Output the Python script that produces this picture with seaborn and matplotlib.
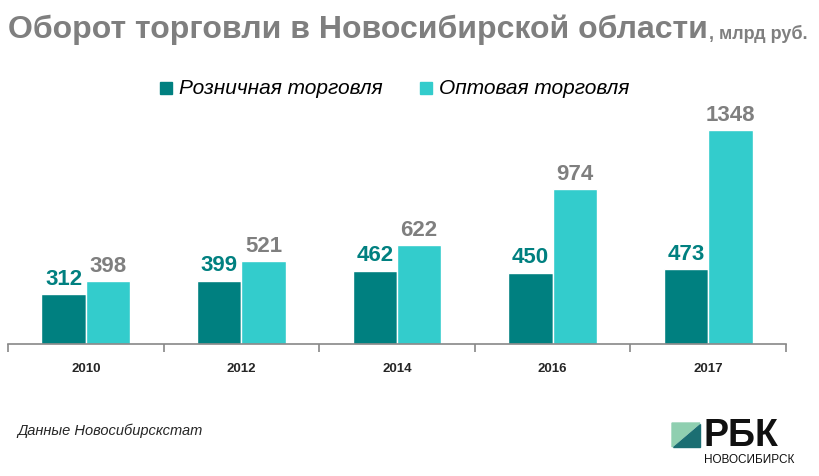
import pandas as pd
import matplotlib.pyplot as plt
import seaborn as sns
from matplotlib.patches import Polygon

years = ["2010", "2012", "2014", "2016", "2017"]
retail = [312, 399, 462, 450, 473]
wholesale = [398, 521, 622, 974, 1348]
series_names = ["Розничная торговля", "Оптовая торговля"]

df = pd.DataFrame({
    "year": years * 2,
    "value": retail + wholesale,
    "kind": [series_names[0]] * len(years) + [series_names[1]] * len(years),
})

sns.set_style("white")
plt.rcParams["font.family"] = ["Liberation Sans", "DejaVu Sans"]

colors = ["#008080", "#33CCCC"]
label_colors = ["#008080", "#7F7F7F"]

fig = plt.figure(figsize=(8.19, 4.76), dpi=100)
ax = fig.add_axes([8 / 819, 1 - 344 / 476, 778 / 819, 264 / 476])

sns.barplot(data=df, x="year", y="value", hue="kind", palette=colors,
            width=0.57, saturation=1, ax=ax, legend=False)

ax.set_xlim(-0.5, 4.5)
ax.set_ylim(0, 1662)
ax.set_xlabel("")
ax.set_ylabel("")
ax.set_yticks([])
for s in ["top", "right", "left"]:
    ax.spines[s].set_visible(False)
ax.spines["bottom"].set_color("#888888")
ax.spines["bottom"].set_linewidth(1.2)
ax.tick_params(axis="x", which="major", length=0, pad=14, labelsize=9.5)
for t in ax.get_xticklabels():
    t.set_fontweight("bold")
ax.set_xticks([i - 0.5 for i in range(len(years) + 1)], minor=True)
ax.tick_params(axis="x", which="minor", bottom=True, length=6, width=1.2,
               color="#888888")

# value labels
for cont, col in zip(ax.containers, label_colors):
    ax.bar_label(cont, padding=3, color=col, fontsize=16, fontweight="bold")

# title
title = fig.text(8 / 819, 1 - 30 / 476, "Оборот торговли в Новосибирской области",
                 fontsize=23, fontweight="bold", color="#7F7F7F", va="center")
fig.canvas.draw()
bb = title.get_window_extent()
fig.text(bb.x1 / 819 + 1 / 819, 1 - 34 / 476, ", млрд руб.",
         fontsize=13, fontweight="bold", color="#7F7F7F", va="center")

# legend
for x0, name, col in zip([160, 420], series_names, colors):
    fig.patches.append(plt.Rectangle((x0 / 819, 1 - 94 / 476), 12 / 819, 12 / 476,
                                     transform=fig.transFigure, color=col))
    fig.text((x0 + 19) / 819, 1 - 88 / 476, name, fontsize=15, style="italic",
             color="#000000", va="center")

# source
fig.text(17 / 819, 1 - 431 / 476, "Данные Новосибирскстат", fontsize=10.5,
         style="italic", va="center")

# logo
fig.patches.append(Polygon([(672 / 819, 1 - 423 / 476), (700 / 819, 1 - 423 / 476),
                            (672 / 819, 1 - 447 / 476)], closed=True,
                           transform=fig.transFigure, color="#8FCFB0"))
fig.patches.append(Polygon([(700 / 819, 1 - 424 / 476), (700 / 819, 1 - 447 / 476),
                            (673 / 819, 1 - 447 / 476)], closed=True,
                           transform=fig.transFigure, color="#1B6E72"))
fig.text(703 / 819, 1 - 436 / 476, "РБК", fontsize=27, fontweight="bold",
         va="center", color="#111111")
fig.text(704 / 819, 1 - 460 / 476, "НОВОСИБИРСК", fontsize=8.5, va="center",
         color="#111111")

fig.savefig("out.png", dpi=100)
